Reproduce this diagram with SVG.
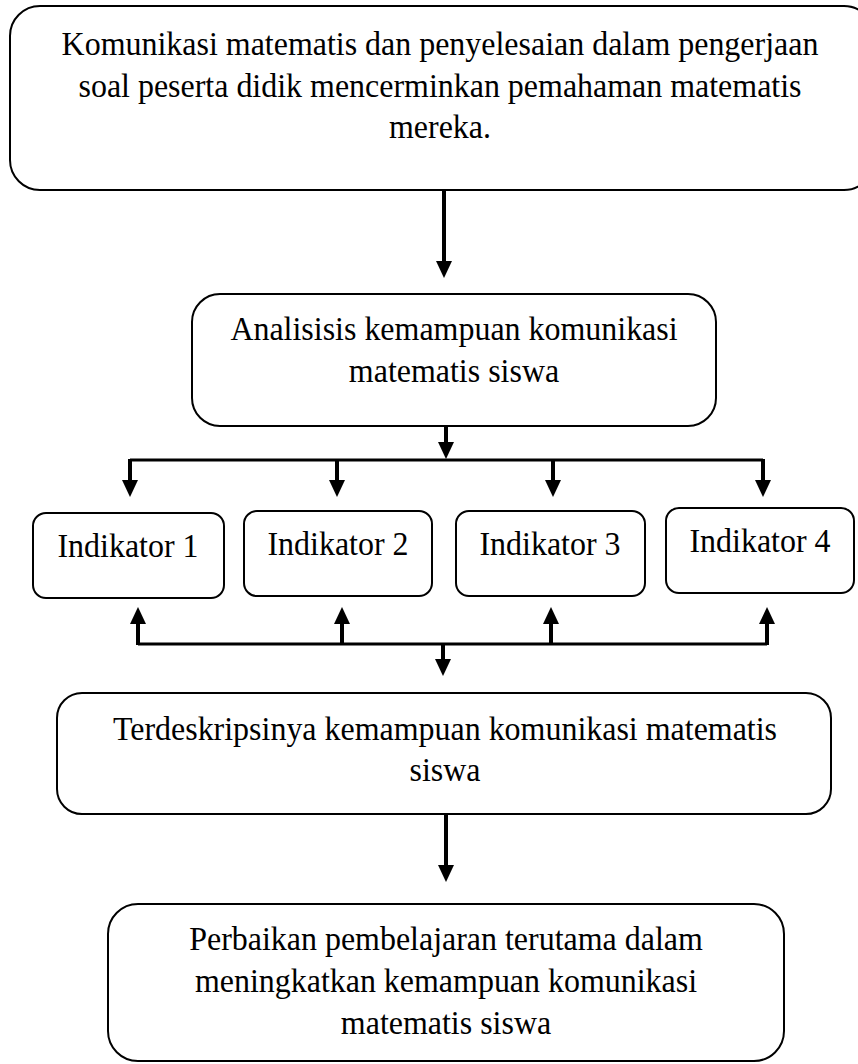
<svg xmlns="http://www.w3.org/2000/svg" width="858" height="1064" viewBox="0 0 858 1064">
<style>
.box{fill:#fff;stroke:#000;stroke-width:2}
.t{font-family:"Liberation Serif","Times New Roman",serif;font-size:34px;fill:#000;text-anchor:middle}
.stem{fill:none;stroke:#000;stroke-width:4}
.bar{fill:none;stroke:#000;stroke-width:3}
</style>
<defs>
<marker id="ah" markerUnits="userSpaceOnUse" markerWidth="18" markerHeight="18" viewBox="0 -9 18 18" refX="0" refY="0" orient="auto">
<path d="M0,-8 L17,0 L0,8 Z" fill="#000"/>
</marker>
</defs>
<g id="connectors">
<path class="stem" d="M444,190 V261" marker-end="url(#ah)"/>
<path class="stem" d="M446,426 V442" marker-end="url(#ah)"/>
<path class="bar" d="M130,460 H763"/>
<path class="stem" d="M130,459 V480" marker-end="url(#ah)"/>
<path class="stem" d="M337,459 V480" marker-end="url(#ah)"/>
<path class="stem" d="M553,459 V480" marker-end="url(#ah)"/>
<path class="stem" d="M763,459 V480" marker-end="url(#ah)"/>
<path class="bar" d="M138,644 H767"/>
<path class="stem" d="M138,645 V624" marker-end="url(#ah)"/>
<path class="stem" d="M342,645 V624" marker-end="url(#ah)"/>
<path class="stem" d="M551,645 V624" marker-end="url(#ah)"/>
<path class="stem" d="M767,645 V624" marker-end="url(#ah)"/>
<path class="stem" d="M443,644 V659" marker-end="url(#ah)"/>
<path class="stem" d="M446,814 V865" marker-end="url(#ah)"/>
</g>
<g id="n1">
<rect class="box" x="10" y="6" width="864" height="184" rx="30" ry="30"/>
<g transform="matrix(0.94,0,0,1,26.4,0)">
<text class="t" x="440" y="55">Komunikasi matematis dan penyelesaian dalam pengerjaan</text>
<text class="t" x="440" y="97">soal peserta didik mencerminkan pemahaman matematis</text>
<text class="t" x="440" y="138">mereka.</text>
</g>
</g>
<g id="n2">
<rect class="box" x="192" y="294" width="524" height="132" rx="28" ry="28"/>
<g transform="matrix(0.94,0,0,1,27.24,0)">
<text class="t" x="454" y="340">Analisisis kemampuan komunikasi</text>
<text class="t" x="454" y="382">matematis siswa</text>
</g>
</g>
<g id="ind1">
<rect class="box" x="33" y="513" width="191" height="85" rx="13" ry="13"/>
<text class="t" x="128" y="557" transform="matrix(0.94,0,0,1,7.68,0)">Indikator 1</text>
</g>
<g id="ind2">
<rect class="box" x="244" y="511" width="188" height="85" rx="13" ry="13"/>
<text class="t" x="338" y="555" transform="matrix(0.94,0,0,1,20.28,0)">Indikator 2</text>
</g>
<g id="ind3">
<rect class="box" x="456" y="511" width="189" height="85" rx="13" ry="13"/>
<text class="t" x="550" y="555" transform="matrix(0.94,0,0,1,33,0)">Indikator 3</text>
</g>
<g id="ind4">
<rect class="box" x="666" y="508" width="188" height="85" rx="13" ry="13"/>
<text class="t" x="760" y="552" transform="matrix(0.94,0,0,1,45.6,0)">Indikator 4</text>
</g>
<g id="n3">
<rect class="box" x="57" y="693" width="774" height="121" rx="25" ry="25"/>
<g transform="matrix(0.94,0,0,1,26.7,0)">
<text class="t" x="445" y="740">Terdeskripsinya kemampuan komunikasi matematis</text>
<text class="t" x="445" y="781">siswa</text>
</g>
</g>
<g id="n4">
<rect class="box" x="108" y="904" width="676" height="157" rx="30" ry="30"/>
<g transform="matrix(0.94,0,0,1,26.76,0)">
<text class="t" x="446" y="950">Perbaikan pembelajaran terutama dalam</text>
<text class="t" x="446" y="992">meningkatkan kemampuan komunikasi</text>
<text class="t" x="446" y="1034">matematis siswa</text>
</g>
</g>
</svg>
